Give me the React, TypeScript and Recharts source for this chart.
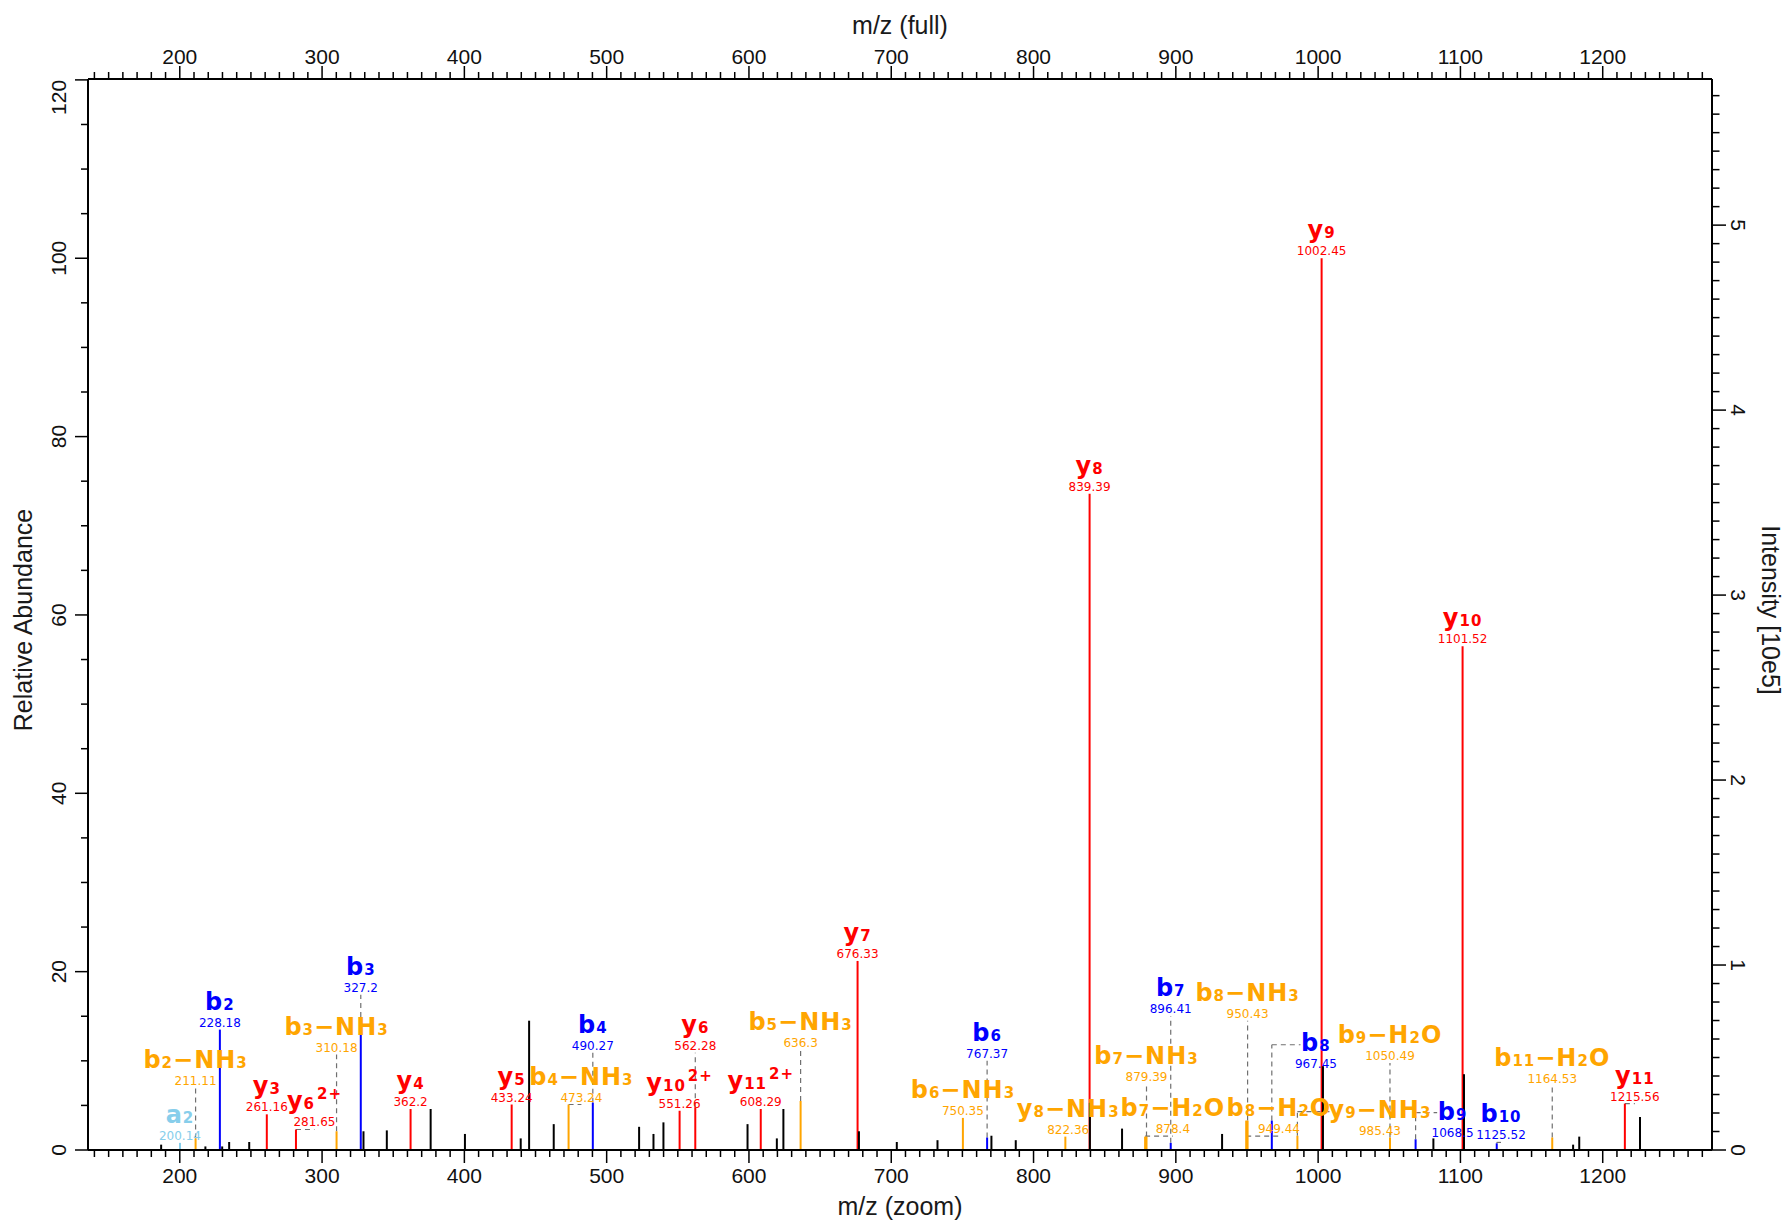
import React from 'react'
import { ComposedChart, XAxis, YAxis, Scatter, ReferenceLine, ReferenceDot } from 'recharts'

const CHART_W = 1789
const CHART_H = 1222
const LEFT_W = 88
const RIGHT_W = 77
const TOP_H = 79
const BOTTOM_H = 72

const MZ_DOMAIN: [number, number] = [135.5, 1276.8]
const REL_DOMAIN: [number, number] = [0, 120.1]
const INT_DOMAIN: [number, number] = [0, 5.79]
// intensity of the 100 % peak, in 10e5
const BASE_PEAK = 4.82

// tick labels
const MZ_LABELS = [200, 300, 400, 500, 600, 700, 800, 900, 1000, 1100, 1200]
const REL_LABELS = [0, 20, 40, 60, 80, 100, 120]
const INT_LABELS = [0, 1, 2, 3, 4, 5]

// minor ticks
const MZ_TICKS = Array.from({ length: 114 }, (_, i) => 140 + i * 10)
const REL_TICKS = Array.from({ length: 25 }, (_, i) => i * 5)
const INT_TICKS = Array.from({ length: 58 }, (_, i) => i / 10)

// y ions
const Y_IONS = ['y3', 'y6^2+', 'y4', 'y5', 'y10^2+', 'y6', 'y11^2+', 'y7', 'y8', 'y9', 'y10', 'y11']
const Y_MZ = [261.16, 281.65, 362.2, 433.24, 551.26, 562.28, 608.29, 676.33, 839.39, 1002.45, 1101.52, 1215.56]
const Y_ABUND = [4.0, 2.3, 4.6, 5.1, 4.4, 4.8, 4.6, 21.2, 73.6, 100, 56.5, 5.2]

// b ions
const B_IONS = ['b2', 'b3', 'b4', 'b6', 'b7', 'b8', 'b9', 'b10']
const B_MZ = [228.18, 327.2, 490.27, 767.37, 896.41, 967.45, 1068.5, 1125.52]
const B_ABUND = [13.5, 13.9, 5.3, 1.4, 0.8, 3.3, 1.2, 0.75]

// neutral losses
const LOSS_IONS = ['b2-NH3', 'b3-NH3', 'b4-NH3', 'b5-NH3', 'b6-NH3', 'y8-NH3', 'b7-H2O', 'b7-NH3', 'b8-H2O', 'b8-NH3', 'y9-NH3', 'b9-H2O', 'b11-H2O']
const LOSS_MZ = [211.11, 310.18, 473.24, 636.3, 750.35, 822.36, 878.4, 879.39, 949.44, 950.43, 985.43, 1050.49, 1164.53]
const LOSS_ABUND = [1.3, 2.1, 5.1, 5.5, 3.6, 1.5, 1.5, 1.5, 3.3, 3.3, 1.6, 1.4, 1.4]

// a ions
const A_IONS = ['a2']
const A_MZ = [200.14]
const A_ABUND = [0.8]

// unassigned peaks
const OTHER_MZ = [186.9, 218.0, 229.8, 234.7, 248.8, 329.1, 345.5, 376.3, 400.4, 439.6, 445.5, 462.8, 522.8, 532.9, 539.9, 599.0, 619.6, 624.2, 677.3, 703.9, 732.5, 770.4, 787.5, 839.6, 862.2, 932.5, 1003.4, 1081.0, 1102.5, 1179.2, 1183.5, 1226.2]
const OTHER_ABUND = [0.6, 0.4, 0.4, 0.9, 0.9, 2.1, 2.2, 4.6, 1.8, 1.3, 14.5, 2.9, 2.6, 1.8, 3.1, 2.9, 1.3, 4.6, 2.1, 0.9, 1.1, 1.6, 1.1, 5.3, 2.4, 1.8, 9.4, 1.3, 8.5, 0.6, 1.5, 3.7]

// label placement for crowded annotations: [anchor level, m/z shift, elbow level]
const LABEL_LAYOUT: Record<string, number[]> = {
  'b2-NH3': [7.0],
  'b3-NH3': [10.7],
  'b3': [17.4],
  'y6^2+': [2.3, 13],
  'b4-NH3': [5.1, 9],
  'b4': [10.9],
  'y6': [10.9],
  'b5-NH3': [11.2],
  'b6': [10.0],
  'y8-NH3': [1.5, 2],
  'b7-NH3': [7.4],
  'b7-H2O': [1.55, 19.5],
  'b7': [15.0],
  'b8-NH3': [14.5],
  'b8-H2O': [1.55, 23],
  'b8': [8.85, 31, 11.8],
  'y9-NH3': [1.35, 58, 4.3],
  'b9-H2O': [9.75],
  'b9': [1.15, 26, 4.2],
  'b10': [0.85, 3],
  'b11-H2O': [7.15],
  'y11': [5.2, 7],
}

const GROUPS = [
  { color: '#FFA500', ions: LOSS_IONS, mz: LOSS_MZ, abund: LOSS_ABUND },
  { color: '#87CEEB', ions: A_IONS, mz: A_MZ, abund: A_ABUND },
  { color: '#0000FF', ions: B_IONS, mz: B_MZ, abund: B_ABUND },
  { color: '#FF0000', ions: Y_IONS, mz: Y_MZ, abund: Y_ABUND },
]

const ALL_PEAKS = [
  ...GROUPS.flatMap((g) => g.mz.map((mz, i) => ({ mz, abund: g.abund[i] }))),
  ...OTHER_MZ.map((mz, i) => ({ mz, abund: OTHER_ABUND[i] })),
].map((p) => ({ ...p, intensity: (p.abund / 100) * BASE_PEAK }))

const PX_PER_MZ = (CHART_W - LEFT_W - RIGHT_W) / (MZ_DOMAIN[1] - MZ_DOMAIN[0])
const AXIS_FONT = '"Liberation Sans", Arial, sans-serif'
const LABEL_FONT = '"DejaVu Sans", Verdana, sans-serif'
const DASH = '#707070'

function nameRuns(ion: string) {
  const [body, charge] = ion.split('^')
  const runs: { text: string; small: boolean }[] = []
  for (const ch of body) {
    const small = /[0-9]/.test(ch)
    const glyph = ch === '-' ? '\u2212' : ch
    const last = runs[runs.length - 1]
    if (last && last.small === small) last.text += glyph
    else runs.push({ text: glyph, small })
  }
  return { runs, charge }
}

function nameHalfWidth(ion: string) {
  const { runs, charge } = nameRuns(ion)
  let w = 0
  runs.forEach((r) => { w += r.text.length * (r.small ? 11.4 : 19.5) })
  if (charge) w += 2 + charge.length * 12.5
  return w / 2
}

function IonLabel({ cx, cy, ion, mz, color }: any) {
  const { runs, charge } = nameRuns(ion)
  return (
    <g>
      <text x={cx} y={cy - 20} textAnchor="middle" fill={color} fontFamily={LABEL_FONT} fontWeight="bold" fontSize={24} letterSpacing={1}>
        {runs.map((r, i) => (
          <tspan key={i} fontSize={r.small ? 15 : 24}>{r.text}</tspan>
        ))}
        {charge && <tspan fontSize={15} dx={2} dy={-10}>{charge}</tspan>}
      </text>
      <text x={cx} y={cy - 3} textAnchor="middle" fill={color} fontFamily={LABEL_FONT} fontSize={12}>
        {String(mz)}
      </text>
    </g>
  )
}

const MzTick = ({ x, y, payload, side }: any) => {
  const v = payload.value
  const major = MZ_LABELS.includes(v)
  const dir = side === 'top' ? -1 : 1
  return (
    <g>
      <line x1={x} y1={y} x2={x} y2={y + dir * (major ? 13 : 7)} stroke="#000" strokeWidth={1.5} />
      {major && (
        <text x={x} y={side === 'top' ? y - 15.5 : y + 33} textAnchor="middle" fontSize={21} fontFamily={AXIS_FONT} fill="#111">
          {v}
        </text>
      )}
    </g>
  )
}

const RelTick = ({ x, y, payload }: any) => {
  const v = payload.value
  const major = REL_LABELS.includes(v)
  const tx = x - 29
  const last = v === REL_LABELS[REL_LABELS.length - 1]
  return (
    <g>
      <line x1={x} y1={y} x2={x - (major ? 13 : 7)} y2={y} stroke="#000" strokeWidth={1.5} />
      {major && (
        <text x={tx} y={y} dy="0.35em" transform={`rotate(-90 ${tx} ${y})`} textAnchor={last ? 'end' : 'middle'} fontSize={21} fontFamily={AXIS_FONT} fill="#111">
          {v}
        </text>
      )}
    </g>
  )
}

const IntTick = ({ x, y, payload }: any) => {
  const v = payload.value
  const major = Number.isInteger(v) && INT_LABELS.includes(v)
  const tx = x + 26
  return (
    <g>
      <line x1={x} y1={y} x2={x + (major ? 14 : 7.5)} y2={y} stroke="#000" strokeWidth={1.5} />
      {major && (
        <text x={tx} y={y} dy="0.35em" transform={`rotate(90 ${tx} ${y})`} textAnchor="middle" fontSize={21} fontFamily={AXIS_FONT} fill="#111">
          {v}
        </text>
      )}
    </g>
  )
}

function title(text: string, left: number, top: number, deg: number) {
  return (
    <div
      style={{
        position: 'absolute', left, top, transform: `translate(-50%, -50%) rotate(${deg}deg)`,
        fontFamily: AXIS_FONT, fontSize: 25, lineHeight: 1, whiteSpace: 'nowrap', color: '#1a1a1a',
      }}
    >
      {text}
    </div>
  )
}

const NoDot = () => <g />

export default function App() {
  const ids = { xAxisId: 'mz', yAxisId: 'rel' }

  const connectors: React.ReactNode[] = []
  const sticks: React.ReactNode[] = []
  const labels: React.ReactNode[] = []

  GROUPS.forEach((g) => {
    g.ions.forEach((ion, i) => {
      const mz = g.mz[i]
      const top = g.abund[i]
      const lay = LABEL_LAYOUT[ion] || [top]
      const level = lay[0]
      const shift = lay[1] || 0
      const elbow = lay[2]
      const labelMz = mz + shift
      const vEnd = elbow !== undefined ? elbow : level
      if (vEnd > top + 0.05) {
        connectors.push(
          <ReferenceLine key={`v-${ion}`} {...ids} segment={[{ x: mz, y: top }, { x: mz, y: vEnd }]}
            stroke={DASH} strokeWidth={1.2} strokeDasharray="5 4" ifOverflow="visible" />
        )
      }
      if (shift > 2) {
        const endMz = elbow !== undefined ? labelMz - nameHalfWidth(ion) / PX_PER_MZ : labelMz
        connectors.push(
          <ReferenceLine key={`h-${ion}`} {...ids} segment={[{ x: mz, y: vEnd }, { x: endMz, y: vEnd }]}
            stroke={DASH} strokeWidth={1.2} strokeDasharray="5 4" ifOverflow="visible" />
        )
      }
      sticks.push(
        <ReferenceLine key={`s-${ion}`} {...ids} segment={[{ x: mz, y: 0 }, { x: mz, y: top }]}
          stroke={g.color} strokeWidth={2} ifOverflow="visible" />
      )
      labels.push(
        <ReferenceDot key={`l-${ion}`} {...ids} x={labelMz} y={level} r={0} ifOverflow="visible"
          shape={(p: any) => <IonLabel cx={p.cx} cy={p.cy} ion={ion} mz={mz} color={g.color} />} />
      )
    })
  })

  OTHER_MZ.forEach((mz, i) => {
    sticks.push(
      <ReferenceLine key={`o-${i}`} {...ids} segment={[{ x: mz, y: 0 }, { x: mz, y: OTHER_ABUND[i] }]}
        stroke="#000" strokeWidth={2} ifOverflow="visible" />
    )
  })

  const plotCx = LEFT_W + (CHART_W - LEFT_W - RIGHT_W) / 2

  return (
    <div style={{ position: 'absolute', left: 0, top: 0, width: CHART_W, height: CHART_H, background: '#fff' }}>
      <ComposedChart width={CHART_W} height={CHART_H} margin={{ top: 0, right: 0, bottom: 0, left: 0 }}>
        <XAxis xAxisId="mz" dataKey="mz" type="number" orientation="bottom" domain={MZ_DOMAIN} allowDataOverflow
          ticks={MZ_TICKS} interval={0} height={BOTTOM_H} tickLine={false} tickSize={0} tickMargin={0}
          axisLine={{ stroke: '#000', strokeWidth: 2 }} tick={(p: any) => <MzTick {...p} side="bottom" />} />
        <XAxis xAxisId="full" dataKey="mz" type="number" orientation="top" domain={MZ_DOMAIN} allowDataOverflow
          ticks={MZ_TICKS} interval={0} height={TOP_H} tickLine={false} tickSize={0} tickMargin={0}
          axisLine={{ stroke: '#000', strokeWidth: 2 }} tick={(p: any) => <MzTick {...p} side="top" />} />
        <YAxis yAxisId="rel" dataKey="abund" type="number" orientation="left" domain={REL_DOMAIN} allowDataOverflow
          ticks={REL_TICKS} interval={0} width={LEFT_W} tickLine={false} tickSize={0} tickMargin={0}
          axisLine={{ stroke: '#000', strokeWidth: 2 }} tick={(p: any) => <RelTick {...p} />} />
        <YAxis yAxisId="int" dataKey="intensity" type="number" orientation="right" domain={INT_DOMAIN} allowDataOverflow
          ticks={INT_TICKS} interval={0} width={RIGHT_W} tickLine={false} tickSize={0} tickMargin={0}
          axisLine={{ stroke: '#000', strokeWidth: 2 }} tick={(p: any) => <IntTick {...p} />} />
        <Scatter name="relative" data={ALL_PEAKS} xAxisId="mz" yAxisId="rel" dataKey="abund"
          shape={NoDot} isAnimationActive={false} />
        <Scatter name="intensity" data={ALL_PEAKS} xAxisId="full" yAxisId="int" dataKey="intensity"
          shape={NoDot} isAnimationActive={false} />
        {connectors}
        {sticks}
        {labels}
      </ComposedChart>
      {title('m/z (full)', plotCx, 25, 0)}
      {title('m/z (zoom)', plotCx, 1206, 0)}
      {title('Relative Abundance', 23, 620, -90)}
      {title('Intensity [10e5]', 1770, 610, 90)}
    </div>
  )
}
